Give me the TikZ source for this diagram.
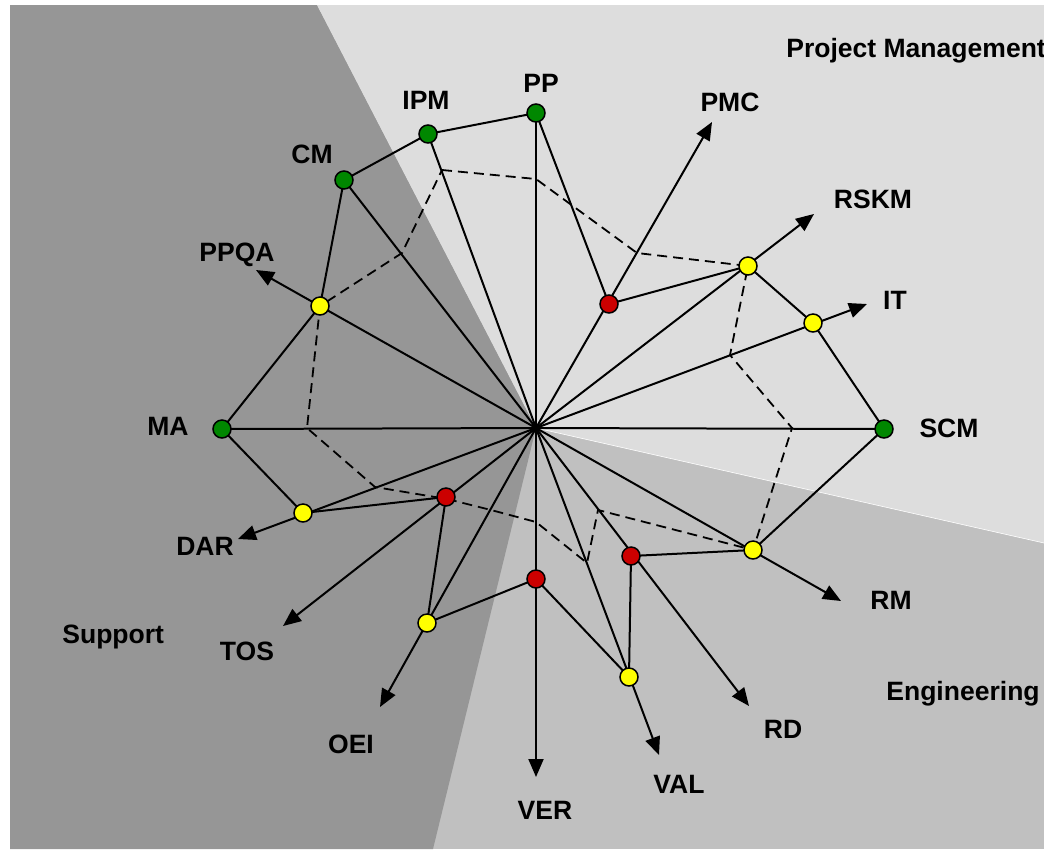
\documentclass[tikz,border=0pt]{standalone}
\usepackage{fontspec}
\setmainfont{Liberation Sans}
\usetikzlibrary{arrows.meta}
\definecolor{supportgray}{RGB}{150,150,150}
\definecolor{pmgray}{RGB}{221,221,221}
\definecolor{enggray}{RGB}{192,192,192}
\definecolor{ptgreen}{RGB}{0,135,0}
\definecolor{ptred}{RGB}{204,0,0}
\definecolor{ptyellow}{RGB}{255,255,0}
\begin{document}
\begin{tikzpicture}[x=0.02cm,y=-0.02cm,
  spoke/.style={line width=0.04cm},
  arr/.style={line width=0.04cm,-{Triangle[length=0.36cm,width=0.3cm]}},
  score/.style={line width=0.04cm,line join=round},
  target/.style={line width=0.036cm,dash pattern=on 0.2cm off 0.12cm},
  pt/.style={circle,draw=black,line width=0.03cm,minimum size=0.36cm,inner sep=0pt},
  lbl/.style={font=\fontsize{15.1}{17}\selectfont\bfseries,inner sep=0pt,anchor=base},
  area/.style={lbl,anchor=base west}]
\useasboundingbox (0,0) rectangle (1044,849);
\fill[white] (0,0) rectangle (1044,849);
% background regions
\fill[enggray] (10,5) rectangle (1044,849);
\fill[supportgray] (10,5) -- (317,5) -- (536,428) -- (433,849) -- (10,849) -- cycle;
\fill[pmgray] (317,5) -- (1044,5) -- (1044,543) -- (536,428) -- cycle;
\draw[white,line width=0.012cm] (536,428) -- (1044,543);
% centre
\coordinate (O) at (536,428);
% score points
\coordinate (PP) at (536,113);
\coordinate (IPM) at (428,134);
\coordinate (CM) at (344,180);
\coordinate (PPQA) at (320,306);
\coordinate (MA) at (222,429);
\coordinate (DAR) at (303,513);
\coordinate (TOS) at (446,497);
\coordinate (OEI) at (427,623);
\coordinate (VER) at (536,579);
\coordinate (VAL) at (629,677);
\coordinate (RD) at (631,556);
\coordinate (RM) at (753,550);
\coordinate (SCM) at (884,429);
\coordinate (IT) at (813,323);
\coordinate (RSKM) at (748,266);
\coordinate (PMC) at (609,304);
% arrow tips
\coordinate (PMCt) at (712,122);
\coordinate (RSKMt) at (814,214);
\coordinate (ITt) at (867,304);
\coordinate (RMt) at (841,601);
\coordinate (RDt) at (749,706);
\coordinate (VALt) at (659,755);
\coordinate (VERt) at (536,777);
\coordinate (OEIt) at (380,707);
\coordinate (TOSt) at (283,626);
\coordinate (DARt) at (238,539);
\coordinate (PPQAt) at (256,270);
% target points (dashed)
\coordinate (tIPM) at (442,170);
\coordinate (tPP) at (536,179);
\coordinate (tPMC) at (637,253);
\coordinate (tRSKM) at (748,266);
\coordinate (tIT) at (730,355);
\coordinate (tSCM) at (792,428);
\coordinate (tRM) at (753,550);
\coordinate (tRD) at (598,510);
\coordinate (tVAL) at (587,563);
\coordinate (tVER) at (536,522);
\coordinate (tOEI) at (491,510);
\coordinate (tTOS) at (447,499);
\coordinate (tDAR) at (375,487);
\coordinate (tMA) at (307,428);
\coordinate (tPPQA) at (320,306);
\coordinate (tCM) at (402,253);
% spokes
\foreach \p in {PP,IPM,CM,MA,SCM} \draw[spoke] (O) -- (\p);
\foreach \p in {PMC,RSKM,IT,RM,RD,VAL,VER,OEI,TOS,DAR,PPQA} \draw[arr] (O) -- (\p t);
% target polygon
\draw[target] (tIPM) -- (tPP) -- (tPMC) -- (tRSKM) -- (tIT) -- (tSCM) -- (tRM) -- (tRD) -- (tVAL) -- (tVER) -- (tOEI) -- (tTOS) -- (tDAR) -- (tMA) -- (tPPQA) -- (tCM) -- cycle;
% score polygon
\draw[score] (PP) -- (IPM) -- (CM) -- (PPQA) -- (MA) -- (DAR) -- (TOS) -- (OEI) -- (VER) -- (VAL) -- (RD) -- (RM) -- (SCM) -- (IT) -- (RSKM) -- (PMC) -- cycle;
% markers
\foreach \p in {PP,IPM,CM,MA,SCM} \node[pt,fill=ptgreen] (m\p) at (\p) {};
\foreach \p in {PPQA,DAR,OEI,VAL,RM,IT,RSKM} \node[pt,fill=ptyellow] (m\p) at (\p) {};
\foreach \p in {TOS,VER,RD,PMC} \node[pt,fill=ptred] (m\p) at (\p) {};
% labels
\node[lbl] (lIPM) at (426,109) {IPM};
\node[lbl] (lCM) at (312,163) {CM};
\node[lbl] (lPPQA) at (237,261) {PPQA};
\node[lbl] (lMA) at (168,435) {MA};
\node[lbl] (lPP) at (541,92) {PP};
\node[lbl] (lPMC) at (730,111) {PMC};
\node[lbl] (lRSKM) at (873,208) {RSKM};
\node[lbl] (lIT) at (895,309) {IT};
\node[lbl] (lSCM) at (949,437) {SCM};
\node[lbl] (lDAR) at (205,555) {DAR};
\node[lbl] (lTOS) at (247,660) {TOS};
\node[lbl] (lOEI) at (351,753) {OEI};
\node[lbl] (lRM) at (891,609) {RM};
\node[lbl] (lRD) at (783,738) {RD};
\node[lbl] (lVAL) at (679,793) {VAL};
\node[lbl] (lVER) at (545,819) {VER};
\node[area] (aPM) at (786,57) {Project Management};
\node[area] (aSup) at (62,643) {Support};
\node[area] (aEng) at (886,700) {Engineering};
\end{tikzpicture}
\end{document}
